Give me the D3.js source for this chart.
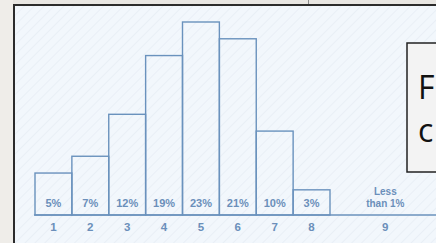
<!DOCTYPE html>
<html><head><meta charset="utf-8">
<script src="https://cdn.jsdelivr.net/npm/d3@7"></script>
<style>html,body{margin:0;padding:0;background:#ecebe7;overflow:hidden}</style>
</head><body>
<script>
const categories = ["1","2","3","4","5","6","7","8"];
const values = [5,7,12,19,23,21,10,3];
const valueLabels = ["5%","7%","12%","19%","23%","21%","10%","3%"];
const lastCategory = "9";
const lastLabel = ["Less","than 1%"];
const boxText = ["F","c"];

const W=436,H=243;
const svg=d3.select("body").append("svg").attr("width",W).attr("height",H);
const defs=svg.append("defs");
const pat=defs.append("pattern").attr("id","hatch").attr("patternUnits","userSpaceOnUse")
  .attr("width",7).attr("height",7).attr("patternTransform","rotate(45)");
pat.append("rect").attr("width",7).attr("height",7).attr("fill","#f2f7fc");
pat.append("line").attr("x1",0).attr("y1",0).attr("x2",0).attr("y2",7).attr("stroke","#e6edf5").attr("stroke-width",1.5);

// slide chrome
svg.append("rect").attr("x",0).attr("y",0).attr("width",W).attr("height",4).attr("fill","#e8e6e2");
svg.append("line").attr("x1",308.5).attr("x2",308.5).attr("y1",0).attr("y2",4).attr("stroke","#8a8a8a");
svg.append("rect").attr("x",0).attr("y",0).attr("width",13).attr("height",H).attr("fill","#efede9");
svg.append("rect").attr("x",14).attr("y",5).attr("width",W-14).attr("height",H-5).attr("fill","url(#hatch)");
svg.append("line").attr("x1",14).attr("x2",14).attr("y1",4).attr("y2",H).attr("stroke","#2b2b2b").attr("stroke-width",2);
svg.append("line").attr("x1",13).attr("x2",W).attr("y1",5).attr("y2",5).attr("stroke","#2b2b2b").attr("stroke-width",2);

const base=215;
const x=d3.scaleBand().domain(categories).range([35,330]).padding(0);
const y=d3.scaleLinear().domain([0,23]).range([base,22]);
const ink="#6a92bd", txt="#6b8fba";

const g=svg.append("g");
g.append("line").attr("x1",34).attr("x2",W).attr("y1",base).attr("y2",base).attr("stroke",ink).attr("stroke-width",1.4);
g.selectAll("rect.bar").data(values).join("rect").attr("class","bar")
  .attr("x",(d,i)=>x(categories[i])).attr("width",x.bandwidth())
  .attr("y",d=>y(d)).attr("height",d=>base-y(d))
  .attr("fill","none").attr("stroke",ink).attr("stroke-width",1.4);

const font="'Liberation Sans Narrow','Liberation Sans',Arial,sans-serif";
g.selectAll("text.pct").data(valueLabels).join("text").attr("class","pct")
  .attr("x",(d,i)=>x(categories[i])+x.bandwidth()/2).attr("y",207)
  .attr("text-anchor","middle").attr("font-family",font).attr("font-weight","bold")
  .attr("font-size",11).attr("fill",txt).text(d=>d);
g.selectAll("text.cat").data(categories).join("text").attr("class","cat")
  .attr("x",d=>x(d)+x.bandwidth()/2).attr("y",231)
  .attr("text-anchor","middle").attr("font-family",font).attr("font-weight","bold")
  .attr("font-size",11.5).attr("fill",txt).text(d=>d);
const x9=x(categories[7])+x.bandwidth()/2+2*x.step();
g.append("text").attr("x",x9).attr("y",231).attr("text-anchor","middle").attr("font-family",font)
  .attr("font-weight","bold").attr("font-size",11.5).attr("fill",txt).text(lastCategory);
g.selectAll("text.less").data(lastLabel).join("text").attr("class","less")
  .attr("x",x9).attr("y",(d,i)=>195+i*11.5).attr("text-anchor","middle").attr("font-family",font)
  .attr("font-weight","bold").attr("font-size",10).attr("fill",txt).text(d=>d);

// overlay box
svg.append("rect").attr("x",407).attr("y",43).attr("width",60).attr("height",129)
  .attr("fill","#f3f3f3").attr("stroke","#222").attr("stroke-width",1.5);
svg.selectAll("text.box").data(boxText).join("text").attr("class","box")
  .attr("x",418).attr("y",(d,i)=>99+i*43).attr("font-family","'Open Sans',sans-serif")
  .attr("font-size",32).attr("fill","#111").text(d=>d);
</script>
</body></html>
